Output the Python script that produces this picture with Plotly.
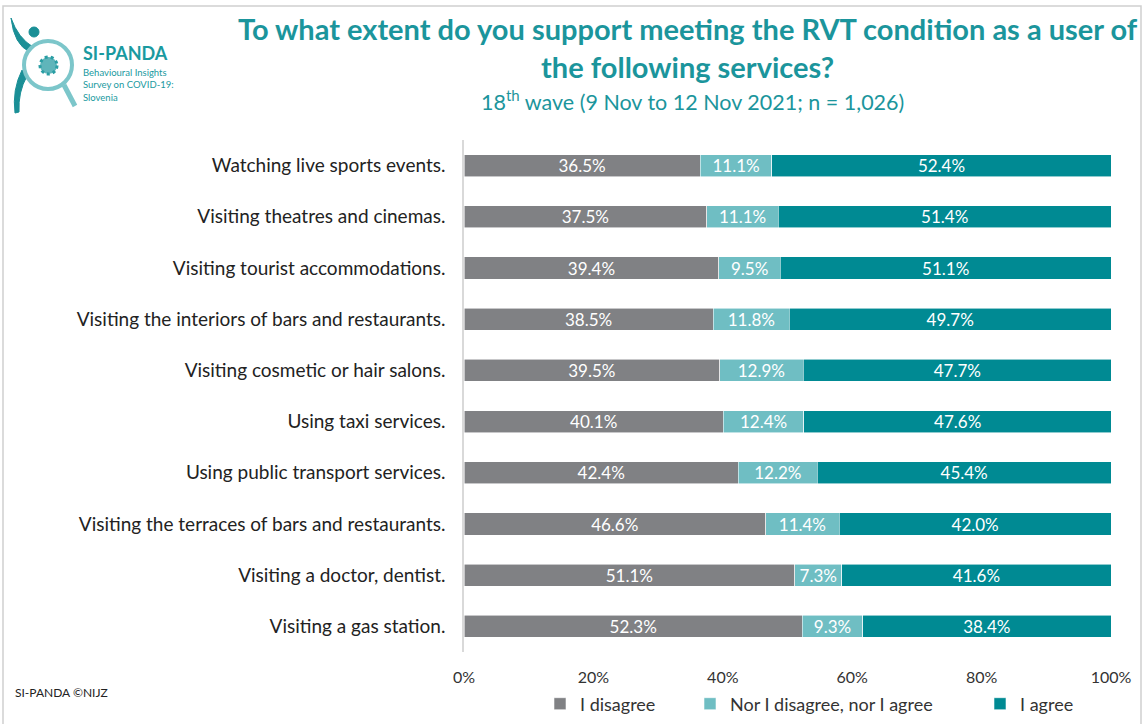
import plotly.graph_objects as go

# Survey items, top to bottom
services = [
    "Watching live sports events.",
    "Visiting theatres and cinemas.",
    "Visiting tourist accommodations.",
    "Visiting the interiors of bars and restaurants.",
    "Visiting cosmetic or hair salons.",
    "Using taxi services.",
    "Using public transport services.",
    "Visiting the terraces of bars and restaurants.",
    "Visiting a doctor, dentist.",
    "Visiting a gas station.",
]
disagree = [36.5, 37.5, 39.4, 38.5, 39.5, 40.1, 42.4, 46.6, 51.1, 52.3]
neutral = [11.1, 11.1, 9.5, 11.8, 12.9, 12.4, 12.2, 11.4, 7.3, 9.3]
agree = [52.4, 51.4, 51.1, 49.7, 47.7, 47.6, 45.4, 42.0, 41.6, 38.4]

series_names = ["I disagree", "Nor I disagree, nor I agree", "I agree"]
series_values = [disagree, neutral, agree]
series_colors = ["#808184", "#6fbec3", "#008a93"]
x_ticks = [0, 20, 40, 60, 80, 100]
x_tick_labels = ["0%", "20%", "40%", "60%", "80%", "100%"]

FONT = "Lato"
TEAL = "#1b959c"

W, H = 1143, 724
L, R, T, B = 464, 32, 140, 72
PW, PH = W - L - R, H - T - B


def px_x(x):
    return (x - L) / PW


def px_y(y):
    return 1 - (y - T) / PH


fig = go.Figure()
legend_keys = ["legend", "legend2", "legend3"]
for name, vals, color, lk in zip(series_names, series_values, series_colors, legend_keys):
    fig.add_trace(go.Bar(
        y=services, x=vals, name=name, orientation="h",
        marker=dict(color=color, line=dict(color="rgba(255,255,255,0.7)", width=0.8)),
        text=vals, texttemplate="%{x:.1f}%", textposition="inside",
        insidetextanchor="middle",
        textfont=dict(family=FONT, size=17, color="white"),
        legend=lk, hoverinfo="skip",
    ))

# One legend box per series, placed relative to the whole page
legend_common = dict(
    orientation="h", yanchor="middle", xanchor="left",
    xref="container", yref="container",
    font=dict(family=FONT, size=18, color="#333333"),
    bgcolor="rgba(0,0,0,0)", itemwidth=30,
)
layout_legends = {}
for lk, xpix in zip(legend_keys, [540, 690, 980]):
    layout_legends[lk] = dict(legend_common, x=xpix / W, y=1 - 704 / H)

fig.update_layout(
    width=W, height=H,
    margin=dict(l=L, r=R, t=T, b=B, autoexpand=False),
    barmode="stack", bargap=0.57,
    uniformtext=dict(minsize=17, mode="show"),
    paper_bgcolor="white", plot_bgcolor="white",
    font=dict(family=FONT, color="#222222"),
    showlegend=True,
    xaxis=dict(
        range=[0, 100], tickvals=x_ticks, ticktext=x_tick_labels,
        showgrid=False, zeroline=False, showline=False, automargin=False,
        tickfont=dict(family=FONT, size=16, color="#333333"),
        ticks="", ticklabelstandoff=14,
    ),
    yaxis=dict(
        autorange="reversed", showgrid=False, zeroline=False, automargin=False,
        showline=True, linecolor="#d9d9d9", linewidth=1.5,
        ticks="", ticklabelstandoff=13,
        tickfont=dict(family=FONT, size=19, color="#222222"),
    ),
    **layout_legends,
)

# Title block
fig.add_annotation(
    xref="paper", yref="paper", x=px_x(688), y=px_y(47), xanchor="center", yanchor="middle",
    text="<b>To what extent do you support meeting the RVT condition as a user of<br>the following services?</b>",
    showarrow=False, font=dict(family=FONT, size=29, color=TEAL),
)
fig.add_annotation(
    xref="paper", yref="paper", x=px_x(692), y=px_y(100), xanchor="center", yanchor="middle",
    text="18<sup>th</sup> wave (9 Nov to 12 Nov 2021; n = 1,026)",
    showarrow=False, font=dict(family=FONT, size=21.5, color=TEAL),
)

# Footer
fig.add_annotation(
    xref="paper", yref="paper", x=px_x(13), y=px_y(692), xanchor="left", yanchor="middle",
    text="SI-PANDA ©NIJZ", showarrow=False, font=dict(family=FONT, size=12, color="#222222"),
)

# Outer frame
fig.add_shape(type="rect", xref="paper", yref="paper",
              x0=px_x(3), x1=px_x(1141), y0=px_y(6), y1=px_y(740),
              line=dict(color="#d0d0d0", width=1.5), fillcolor="rgba(0,0,0,0)", layer="below")

# SI-PANDA logo: figure, magnifying glass and virus
fig.add_shape(type="path", xref="paper", yref="paper",
              path=f"M {px_x(11)},{px_y(18)} Q {px_x(14)},{px_y(45)} {px_x(30)},{px_y(52)} L {px_x(33)},{px_y(47)} Q {px_x(18)},{px_y(38)} {px_x(11)},{px_y(18)} Z",
              line=dict(color="#1a8f96", width=1), fillcolor="#1a8f96")
fig.add_shape(type="circle", xref="paper", yref="paper",
              x0=px_x(29), x1=px_x(39), y0=px_y(27), y1=px_y(37),
              line=dict(color="#1a8f96", width=1), fillcolor="#1a8f96")
fig.add_shape(type="path", xref="paper", yref="paper",
              path=f"M {px_x(22)},{px_y(70)} Q {px_x(12)},{px_y(90)} {px_x(15)},{px_y(113)} L {px_x(19)},{px_y(112)} Q {px_x(18)},{px_y(92)} {px_x(27)},{px_y(76)} Z",
              line=dict(color="#1a8f96", width=1), fillcolor="#1a8f96")
fig.add_shape(type="circle", xref="paper", yref="paper",
              x0=px_x(24), x1=px_x(72), y0=px_y(41), y1=px_y(89),
              line=dict(color="#7cc6ca", width=4), fillcolor="white")
fig.add_shape(type="line", xref="paper", yref="paper",
              x0=px_x(64), x1=px_x(75), y0=px_y(85), y1=px_y(106),
              line=dict(color="#7cc6ca", width=5))
fig.add_shape(type="circle", xref="paper", yref="paper",
              x0=px_x(40), x1=px_x(57), y0=px_y(57), y1=px_y(74),
              line=dict(color="#2a9ea4", width=3, dash="dot"), fillcolor="#5fb5ba")
fig.add_annotation(
    xref="paper", yref="paper", x=px_x(81), y=px_y(53), xanchor="left", yanchor="middle",
    text="<b>SI-PANDA</b>", showarrow=False, font=dict(family=FONT, size=18, color="#1a9aa0"),
)
fig.add_annotation(
    xref="paper", yref="paper", x=px_x(81), y=px_y(85), xanchor="left", yanchor="middle",
    text="Behavioural Insights<br>Survey on COVID-19:<br>Slovenia", align="left",
    showarrow=False, font=dict(family=FONT, size=9.5, color="#1a9aa0"),
)

fig.write_html("out.html")
